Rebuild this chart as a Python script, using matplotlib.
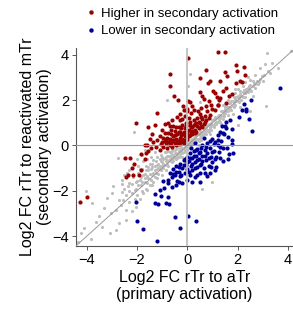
import matplotlib
matplotlib.use("Agg")
import matplotlib.pyplot as plt
from matplotlib.lines import Line2D

plt.rcParams['font.family'] = ['Liberation Sans', 'DejaVu Sans']

# genes higher in secondary activation (red)
red_pts = [
    (-1.05, 0.05), (-0.95, -0.05), (-0.9, 0.2), (-0.85, 0.1), (-0.8, 0.35), (-0.8, -0.1),
    (-0.75, 0.15), (-0.7, 0.3), (-0.7, 0.0), (-0.65, 0.5), (-0.6, 0.2), (-0.6, -0.05),
    (-0.55, 0.4), (-0.5, 0.1), (-0.5, 0.65), (-0.45, 0.3), (-0.45, 0.0), (-0.4, 0.5),
    (-0.4, 0.2), (-0.35, 0.8), (-0.35, 0.05), (-0.3, 0.35), (-0.3, 0.6), (-0.25, 0.15),
    (-0.25, 0.45), (-0.2, 0.9), (-0.2, 0.3), (-0.15, 0.6), (-0.15, 0.1), (-0.1, 0.4),
    (-0.1, 0.75), (-0.05, 0.25), (-0.05, 1.0), (0.0, 0.5), (0.0, 0.3), (0.05, 0.7),
    (0.05, 1.2), (0.1, 0.45), (0.1, 0.9), (0.15, 0.6), (0.2, 0.8), (0.2, 0.5),
    (0.25, 1.1), (0.3, 0.7), (0.3, 0.95), (0.35, 0.6), (0.4, 0.85), (0.4, 1.2),
    (0.45, 0.75), (0.5, 1.0), (0.5, 1.4), (0.55, 0.85), (0.6, 1.15), (0.65, 0.95),
    (0.7, 1.3), (0.75, 1.1), (0.8, 1.5), (0.85, 1.2), (0.9, 1.35), (1.0, 1.6),
    (1.1, 1.55), (1.2, 1.8), (-0.55, 0.85), (-0.65, 0.7), (-0.9, 0.55), (-1.1, 0.4),
    (-1.2, 0.25), (-1.25, -0.05), (-0.3, 1.1), (-0.1, 1.3), (0.15, 1.45), (0.0, 1.6),
    (-0.4, 1.25), (-0.6, 1.1),
    (-0.85, 0.3), (-0.75, 0.55), (-0.65, 0.1), (-0.55, 0.25), (-0.5, 0.45), (-0.45, 0.8),
    (-0.4, 0.05), (-0.35, 0.6), (-0.3, 0.2), (-0.25, 0.75), (-0.2, 0.5), (-0.15, 0.25),
    (-0.1, 0.55), (-0.05, 0.85), (0.0, 0.65), (0.05, 0.4), (0.1, 1.05), (0.15, 0.8),
    (0.2, 0.65), (0.25, 0.9), (0.3, 0.55), (0.35, 1.0), (0.45, 1.05), (0.55, 1.25),
    (0.6, 0.8), (0.7, 1.05), (-0.95, 0.35), (-1.0, 0.15), (-0.7, 0.85), (-0.2, 1.15),
    (-1.21, 1.43), (-0.52, 2.19), (-0.36, 2.02), (-0.31, 1.40), (-0.16, 1.75), (0.01, 1.95),
    (0.12, 1.90), (0.18, 1.73), (-0.15, 1.55), (-0.02, 1.51), (0.28, 1.58), (0.52, 2.34),
    (0.60, 2.17), (0.68, 2.05), (0.87, 1.97), (1.03, 2.41), (1.10, 2.31), (1.18, 2.12),
    (1.27, 2.02), (0.94, 1.77), (0.74, 1.73), (0.54, 1.65), (0.41, 1.51), (1.20, 1.80),
    (1.20, 4.12), (1.48, 4.12), (0.04, 3.84), (-0.68, 3.16), (0.74, 3.33), (0.50, 2.96),
    (0.89, 2.85), (0.83, 2.74), (1.31, 2.83), (-0.68, 2.63), (1.95, 3.56), (2.25, 3.46),
    (1.97, 3.27), (2.28, 3.12), (1.51, 3.22), (2.17, 2.80), (2.08, 2.86), (1.95, 2.77),
    (1.56, 3.05), (1.55, 2.53), (1.42, 2.41), (1.79, 2.28), (1.28, 2.09), (1.52, 1.87),
    (1.65, 2.2),
    (-2.03, 0.98), (-1.55, 0.83), (-1.69, 0.0), (-1.59, 0.0), (-2.48, -0.56), (-2.28, -0.54),
    (-1.86, -0.37), (-1.66, -0.33), (-1.55, -0.26), (-1.69, -0.59), (-2.11, -0.81), (-2.21, -1.0),
    (-2.36, -1.30), (-2.44, -1.37), (-2.14, -1.30), (-1.92, -1.30), (-1.86, -1.08), (-4.25, -2.48),
    (-3.98, -2.25), (-1.4, 0.5), (-1.3, 0.9), (-1.45, -0.1), (-1.35, 0.15), (-1.5, 0.3),
    (-1.0, 0.7), (-0.9, 0.95), (-0.75, 1.0), (-1.1, -0.2),
]

# genes lower in secondary activation (blue)
blue_pts = [
    (-0.75, -1.5), (-0.7, -1.2), (-0.6, -1.4), (-0.55, -1.05), (-0.5, -1.3), (-0.45, -0.9),
    (-0.4, -1.55), (-0.35, -1.15), (-0.3, -0.8), (-0.25, -1.3), (-0.2, -1.0), (-0.15, -0.65),
    (-0.1, -1.2), (-0.05, -0.85), (0.0, -0.5), (0.0, -1.05), (0.05, -0.7), (0.1, -1.3),
    (0.1, -0.35), (0.15, -0.9), (0.2, -0.55), (0.2, -1.1), (0.25, -0.25), (0.3, -0.75),
    (0.3, -1.4), (0.35, -0.45), (0.4, -0.95), (0.4, -0.15), (0.45, -0.6), (0.5, -1.2),
    (0.5, -0.3), (0.55, -0.8), (0.6, 0.0), (0.6, -0.45), (0.65, -1.0), (0.7, -0.2),
    (0.75, -0.65), (0.8, 0.1), (0.8, -0.35), (0.85, -0.9), (0.9, -0.1), (0.95, -0.5),
    (1.0, 0.3), (1.0, -0.75), (1.05, -0.25), (1.1, 0.15), (1.15, -0.5), (1.2, 0.45),
    (1.2, 0.0), (1.25, -0.3), (1.3, 0.6), (1.35, 0.2), (1.4, -0.1), (1.45, 0.5),
    (1.5, 0.85), (0.2, -1.6), (0.5, -1.6), (0.8, -1.35), (1.1, -1.1), (0.0, -1.5),
    (-0.2, -1.65), (0.65, 0.35), (0.3, 0.1), (0.15, -0.1), (1.4, -0.7), (1.15, -0.95),
    (0.9, -1.2), (1.6, -0.6),
    (-0.55, -1.25), (-0.45, -1.15), (-0.35, -0.95), (-0.3, -1.35), (-0.15, -0.85), (-0.1, -0.6),
    (0.0, -0.75), (0.05, -1.15), (0.1, -0.55), (0.2, -0.8), (0.25, -0.45), (0.3, -1.0),
    (0.35, -0.2), (0.4, -0.65), (0.45, -0.35), (0.5, -0.85), (0.55, -0.1), (0.6, -0.7),
    (0.7, -0.45), (0.75, -0.05), (0.85, -0.55), (0.9, 0.2), (1.0, -0.3), (1.05, 0.05),
    (1.1, -0.6), (1.2, 0.25), (1.3, -0.05), (0.95, -0.95), (0.7, -1.2), (0.4, -1.3),
    (2.04, 1.27), (2.45, 1.18), (1.68, 1.12), (1.52, 1.05), (1.39, 0.87), (1.55, 0.77),
    (1.79, 0.73), (2.56, 0.63), (1.42, 0.54), (1.61, 0.39), (1.79, 0.24), (1.79, 0.07),
    (1.57, -0.11), (1.28, -0.55), (1.65, -0.37), (1.81, -0.33), (3.68, 2.55), (2.25, 1.84),
    (2.54, 1.99), (2.32, 1.61), (2.17, 1.55), (2.33, 1.5),
    (-2.03, -2.49), (-1.99, -3.34), (-1.75, -3.69), (-1.22, -4.19), (-0.48, -3.16), (-0.28, -3.65),
    (0.01, -3.09), (0.34, -3.31), (-1.29, -2.52), (-1.18, -2.58), (-1.05, -2.22), (-0.85, -2.52),
    (-0.72, -2.58), (-0.76, -2.25), (-1.29, -2.14), (-1.07, -1.96), (-0.78, -1.67), (-0.45, -1.74),
    (-0.32, -1.59), (-0.91, -1.89), (-0.6, -1.85), (-0.95, -1.55),
]

# not significant (gray)
gray_pts = [
    (-4.33, -4.24), (-4.24, -3.87), (-4.11, -3.65), (-3.84, -4.13), (-3.62, -3.36), (-3.38, -3.58),
    (-3.08, -3.87), (-2.85, -3.72), (-2.72, -3.43), (-2.45, -3.29), (-3.78, -2.55), (-3.32, -2.77),
    (-3.05, -2.99), (-2.85, -2.84), (-2.65, -2.62), (-2.45, -2.84), (-2.98, -2.11), (-2.72, -2.40),
    (-2.96, -1.78), (-2.58, -1.70), (-2.32, -1.64), (-4.02, -1.99), (-3.5, -3.1), (-2.3, -2.5),
    (-2.2, -2.9), (-2.05, -2.7), (-2.6, -2.05), (-2.5, -1.9), (-1.9, -2.35), (-3.2, -2.3),
    (-2.2, -2.1), (-2.2, -1.7), (-2.15, -1.4), (-2.05, -1.9), (-2.0, -1.55), (-1.95, -1.2),
    (-2.0, -2.2), (-1.95, -0.9), (-1.85, -1.75), (-1.85, -1.4), (-1.8, -1.05), (-1.8, -2.0),
    (-1.75, -0.7), (-1.7, -1.6), (-1.7, -1.25), (-1.65, -0.9), (-1.65, -1.9), (-1.6, -0.6),
    (-1.55, -1.45), (-1.55, -1.1), (-1.5, -0.8), (-1.5, -1.75), (-1.45, -0.5), (-1.4, -1.3),
    (-1.4, -0.95), (-1.35, -0.65), (-1.35, -1.6), (-1.3, -1.1), (-1.25, -1.2), (-1.2, -0.85),
    (-1.2, -0.5), (-1.2, -1.45), (-1.15, -1.0), (-1.1, -1.05), (-1.05, -0.7), (-1.05, -0.4),
    (-1.0, -1.3), (-1.0, -0.9), (-0.95, -0.8), (-0.9, -0.55), (-0.9, -0.3), (-0.85, -1.1),
    (-0.85, -0.7), (-0.8, -0.65), (-0.75, -0.45), (-0.75, -0.9), (-0.7, -0.6), (-0.7, -0.3),
    (-0.65, -0.5), (-0.6, -0.75), (-0.6, -0.25), (-0.55, -0.55), (-0.5, -0.35), (-0.45, -0.6),
    (-0.45, -0.15), (-0.4, -0.4), (-0.35, -0.25), (-0.35, -0.5), (-0.3, -0.1), (-0.25, -0.35),
    (-0.2, -0.15), (-0.2, 0.05), (-0.15, -0.3), (-0.1, 0.0), (-0.05, -0.15), (0.0, 0.1),
    (0.0, -0.2), (0.05, 0.05), (0.1, 0.2), (0.1, -0.05), (0.15, 0.1), (0.2, 0.3),
    (0.2, 0.05), (0.25, 0.2), (0.3, 0.4), (0.3, 0.1), (0.35, 0.3), (0.4, 0.5),
    (0.45, 0.3), (0.5, 0.45), (0.5, 0.65), (0.55, 0.4), (0.6, 0.6), (0.65, 0.5),
    (0.7, 0.75), (0.7, 0.55), (0.75, 0.65), (0.8, 0.9), (0.85, 0.7), (0.9, 0.95),
    (0.9, 0.8), (0.95, 0.85), (1.0, 1.1), (1.05, 0.9), (1.1, 1.15), (1.1, 1.0),
    (1.15, 1.05), (1.2, 1.3), (1.25, 1.1), (1.3, 1.35), (1.3, 1.2), (1.35, 1.5),
    (1.4, 1.3), (1.45, 1.4), (1.5, 1.6), (1.5, 1.45), (1.55, 1.75), (1.6, 1.5),
    (1.65, 1.65), (1.7, 1.85), (1.7, 1.6), (1.75, 1.95), (1.8, 1.75), (1.85, 1.85),
    (1.9, 2.05), (1.9, 1.8), (1.95, 2.15), (2.0, 1.95), (2.05, 2.1), (2.1, 2.25),
    (2.15, 2.0), (2.2, 2.35), (2.2, 2.15), (2.3, 2.3), (2.35, 2.5), (2.4, 2.35),
    (2.45, 2.6), (2.5, 2.45), (2.6, 2.6), (2.65, 2.75), (2.7, 2.55), (2.75, 2.85),
    (2.8, 2.7), (2.9, 2.95), (3.0, 2.85), (3.05, 3.1), (3.2, 3.3), (3.38, 3.63),
    (3.18, 4.07), (4.13, 4.15), (3.14, 1.73), (2.5, 2.9), (2.2, 2.6), (1.9, 2.3),
    (2.6, 2.2), (2.1, 1.7), (1.8, 1.4), (3.6, 3.4),
    (-2.1, -1.95), (-2.05, -1.6), (-1.95, -1.75), (-1.9, -1.5), (-1.9, -1.05), (-1.8, -1.6),
    (-1.75, -1.3), (-1.7, -1.45), (-1.65, -1.1), (-1.6, -1.35), (-1.6, -1.65), (-1.55, -0.95),
    (-1.5, -1.25), (-1.45, -1.05), (-1.45, -1.5), (-1.4, -0.8), (-1.35, -1.2), (-1.3, -0.9),
    (-1.3, -1.4), (-1.25, -0.7), (-1.2, -1.05), (-1.15, -0.8), (-1.15, -1.25), (-1.1, -0.6),
    (-1.1, -0.9), (-1.05, -1.1), (-1.0, -0.75), (-1.0, -0.5), (-0.95, -1.0), (-0.95, -0.6),
    (-0.9, -0.85), (-0.85, -0.5), (-0.85, -0.3), (-0.8, -0.8), (-0.8, -0.45), (-0.75, -0.7),
    (-0.75, -0.25), (-0.7, -0.45), (-0.65, -0.7), (-0.65, -0.35), (-0.6, -0.55), (-0.6, -0.15),
    (-0.55, -0.4), (-0.55, -0.7), (-0.5, -0.5), (-0.5, -0.2), (-0.45, -0.35), (-0.4, -0.55),
    (-0.4, -0.1), (-0.35, -0.35), (-0.3, -0.45), (-0.3, -0.2), (-0.25, -0.05), (-0.25, -0.25),
    (-0.2, -0.35), (-0.15, -0.1), (-0.1, -0.2), (-0.1, 0.15), (-0.05, 0.0), (0.0, -0.05),
    (0.05, 0.2), (0.05, -0.1), (0.1, 0.05), (0.15, 0.25), (0.15, -0.05), (0.2, 0.15),
    (0.25, 0.35), (0.25, 0.05), (0.3, 0.25), (0.35, 0.15), (0.35, 0.45), (0.4, 0.3),
    (0.45, 0.5), (0.45, 0.2), (0.5, 0.35), (0.55, 0.55), (0.55, 0.25), (0.6, 0.45),
    (0.65, 0.7), (0.65, 0.35), (0.7, 0.6), (0.75, 0.8), (0.75, 0.5), (0.8, 0.7),
    (0.85, 0.95), (0.85, 0.6), (0.9, 0.75), (0.95, 1.0), (0.95, 0.7), (1.0, 0.9),
    (1.05, 1.15), (1.05, 0.8), (1.1, 1.25), (1.15, 0.95), (1.15, 1.2), (1.2, 1.05),
    (1.25, 1.35), (1.25, 1.2), (1.3, 1.05), (1.35, 1.3), (1.4, 1.5), (1.4, 1.15),
    (1.45, 1.3), (1.5, 1.7), (1.55, 1.5), (1.6, 1.7), (1.6, 1.35), (1.65, 1.85),
    (1.7, 1.7), (1.75, 1.55), (1.8, 1.95), (1.85, 2.15), (1.85, 1.7), (1.95, 1.95),
    (2.0, 2.2), (2.05, 1.9), (2.1, 2.4), (2.15, 2.2), (2.25, 2.45), (2.3, 2.15),
    (2.35, 2.35), (2.4, 2.55), (2.5, 2.65), (2.55, 2.4), (2.6, 2.85), (2.7, 2.7),
    (2.85, 2.8), (2.95, 3.05), (-2.3, -2.0), (-2.35, -1.8), (-2.1, -2.35), (-1.75, -2.1),
    (-1.6, -1.95), (-1.4, -1.75), (-2.45, -2.2), (-2.55, -2.4), (-0.2, -0.5), (0.45, 0.0),
    (0.9, 0.5), (1.35, 0.95),
    (1.6, 2.0), (1.9, 2.5), (2.3, 2.8), (2.7, 3.1), (2.4, 3.0), (2.0, 2.5),
    (1.4, 1.8), (2.9, 3.4), (3.1, 3.6), (3.3, 3.2), (-2.5, -1.3), (-2.3, -1.1),
    (-2.0, -0.6), (-1.8, -0.4),
    (-2.76, -0.56), (-2.12, 0.6), (-0.82, 2.0), (0.10, 3.16), (0.04, 2.6), (-1.7, -0.2),
    (-1.3, -0.3), (-2.4, -1.2), (-2.6, -1.5), (-1.0, 0.1), (0.5, 1.9), (1.0, -1.6),
    (0.6, -1.9), (2.0, 0.9), (2.5, 1.5), (1.3, 0.5),
]

red_x = [p[0] for p in red_pts]
red_y = [p[1] for p in red_pts]
blue_x = [p[0] for p in blue_pts]
blue_y = [p[1] for p in blue_pts]
gray_x = [p[0] for p in gray_pts]
gray_y = [p[1] for p in gray_pts]

fig = plt.figure(figsize=(2.93, 3.16), dpi=100)
ax = fig.add_axes([0.259, 0.2215, 0.741, 0.627])

ax.scatter(gray_x, gray_y, s=5, color='#bdbdbd', linewidths=0, zorder=2)
ax.scatter(red_x, red_y, s=9, color='#990000', linewidths=0, zorder=3)
ax.scatter(blue_x, blue_y, s=9, color='#000099', linewidths=0, zorder=3)

ax.axvline(0, color='#c0c0c0', lw=1.3, zorder=4)
ax.axhline(0, color='#999999', lw=0.8, zorder=4)
ax.plot([-5, 5], [-5, 5], color='#999999', lw=0.7, zorder=4)

ax.set_xlim(-4.43, 4.2)
ax.set_ylim(-4.43, 4.3)
ax.set_xticks([-4, -2, 0, 2, 4])
ax.set_yticks([-4, -2, 0, 2, 4])
ax.tick_params(labelsize=10.5, length=3, width=0.7, color='#555555', pad=2)
for side in ['top', 'right']:
    ax.spines[side].set_visible(False)
for side in ['left', 'bottom']:
    ax.spines[side].set_color('#555555')
    ax.spines[side].set_linewidth(0.8)

ax.set_xlabel("Log2 FC rTr to aTr\n(primary activation)", fontsize=11.5, labelpad=2, linespacing=1.2)
ax.set_ylabel("Log2 FC rTr to reactivated mTr\n(secondary activation)", fontsize=11.5, labelpad=0, linespacing=1.2)

handles = [
    Line2D([], [], ls='none', marker='o', ms=3.2, color='#990000', mec='none'),
    Line2D([], [], ls='none', marker='o', ms=3.2, color='#000099', mec='none'),
]
fig.legend(handles, ["Higher in secondary activation", "Lower in secondary activation"],
           loc='upper left', bbox_to_anchor=(0.265, 1.005), frameon=False, fontsize=9.5,
           handlelength=0.6, handletextpad=0.5, labelspacing=0.4, borderpad=0.2)

fig.savefig("out.png", dpi=100)
